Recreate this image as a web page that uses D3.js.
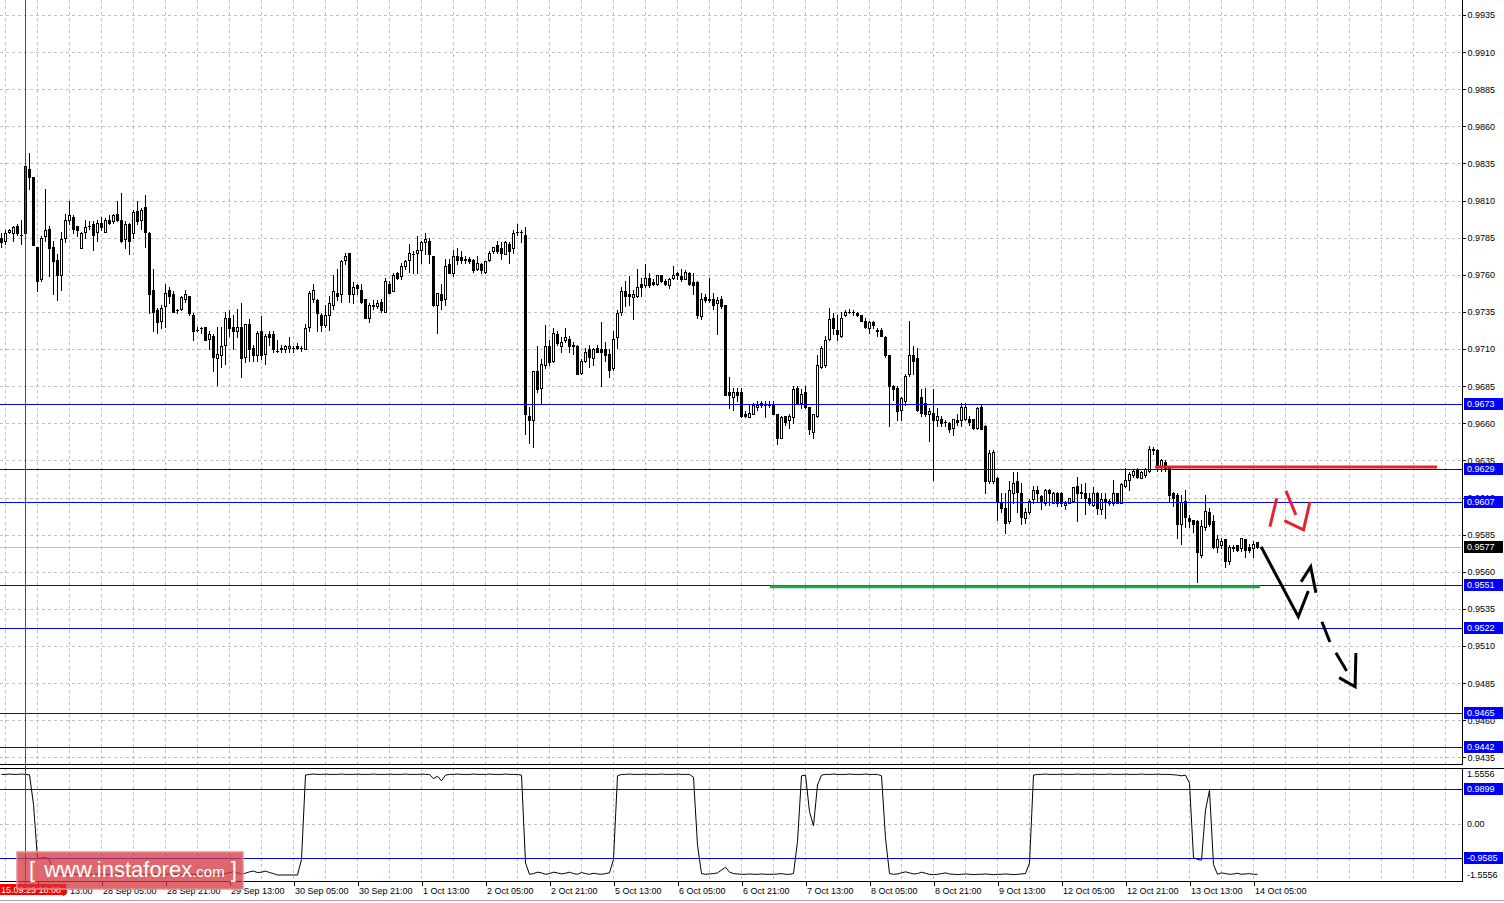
<!DOCTYPE html>
<html><head><meta charset="utf-8">
<script src="https://cdn.jsdelivr.net/npm/d3@7"></script>
<style>
html,body{margin:0;padding:0;background:#fff;overflow:hidden;}
svg{display:block;}
text{font-family:"Liberation Sans",Arial,sans-serif;}
</style></head><body>
<svg id="c" width="1504" height="903"></svg>
<script>
// ---------- DATA ----------
const opens = [
0.9785,0.9783,0.9789,0.9788,0.9793,0.9787,0.9788,0.9831,0.9826,0.9779,
0.9757,0.9786,0.9791,0.9779,0.9770,0.9760,0.9785,0.9797,0.9799,0.9793,
0.9778,0.9789,0.9793,0.9794,0.9789,0.9795,0.9789,0.9797,0.9796,0.9801,
0.9797,0.9784,0.9794,0.9788,0.9803,0.9797,0.9806,0.9788,0.9750,0.9736,
0.9729,0.9739,0.9750,0.9747,0.9736,0.9737,0.9744,0.9746,0.9733,0.9723,
0.9724,0.9725,0.9717,0.9719,0.9704,0.9706,0.9713,0.9731,0.9725,0.9722,
0.9725,0.9705,0.9727,0.9711,0.9706,0.9722,0.9707,0.9720,0.9720,0.9709,
0.9711,0.9710,0.9711,0.9711,0.9712,0.9711,0.9710,0.9725,0.9744,0.9743,
0.9733,0.9726,0.9733,0.9740,0.9748,0.9747,0.9770,0.9775,0.9747,0.9753,
0.9750,0.9744,0.9731,0.9740,0.9739,0.9742,0.9735,0.9754,0.9749,0.9761,
0.9759,0.9766,0.9770,0.9774,0.9775,0.9777,0.9782,0.9783,0.9773,0.9740,
0.9747,0.9744,0.9767,0.9761,0.9773,0.9772,0.9771,0.9771,0.9770,0.9764,
0.9767,0.9762,0.9770,0.9776,0.9780,0.9778,0.9774,0.9781,0.9778,0.9789,
0.9789,0.9787,0.9665,0.9662,0.9695,0.9684,0.9699,0.9712,0.9702,0.9720,
0.9712,0.9716,0.9717,0.9713,0.9712,0.9694,0.9702,0.9710,0.9704,0.9711,
0.9710,0.9710,0.9707,0.9697,0.9718,0.9735,0.9749,0.9747,0.9745,0.9746,
0.9754,0.9753,0.9758,0.9755,0.9754,0.9760,0.9756,0.9753,0.9758,0.9761,
0.9759,0.9757,0.9761,0.9755,0.9755,0.9732,0.9745,0.9744,0.9744,0.9741,
0.9744,0.9740,0.9681,0.9678,0.9681,0.9681,0.9666,0.9664,0.9666,0.9671,
0.9672,0.9673,0.9673,0.9673,0.9666,0.9650,0.9665,0.9662,0.9664,0.9684,
0.9674,0.9681,0.9671,0.9654,0.9665,0.9698,0.9699,0.9717,0.9731,0.9723,
0.9719,0.9733,0.9735,0.9735,0.9734,0.9733,0.9729,0.9724,0.9728,0.9723,
0.9723,0.9718,0.9706,0.9685,0.9684,0.9669,0.9675,0.9693,0.9706,0.9704,
0.9678,0.9674,0.9666,0.9667,0.9662,0.9663,0.9661,0.9660,0.9657,0.9662,
0.9662,0.9663,0.9663,0.9663,0.9657,0.9671,0.9658,0.9621,0.9621,0.9623,
0.9607,0.9603,0.9594,0.9613,0.9621,0.9613,0.9596,0.9600,0.9609,0.9615,
0.9611,0.9606,0.9615,0.9606,0.9613,0.9613,0.9605,0.9606,0.9608,0.9618,
0.9614,0.9613,0.9610,0.9605,0.9613,0.9602,0.9609,0.9608,0.9606,0.9613,
0.9606,0.9618,0.9622,0.9625,0.9629,0.9623,0.9625,0.9628,0.9643,0.9642,
0.9631,0.9634,0.9630,0.9613,0.9612,0.9592,0.9608,0.9596,0.9595,0.9594,
0.9571,0.9590,0.9600,0.9594,0.9577,0.9578,0.9582,0.9567,0.9576,0.9578,
0.9576,0.9582,0.9577,0.9576,0.9580];
const highs = [
0.9788,0.9790,0.9791,0.9793,0.9794,0.9797,0.9833,0.9842,0.9826,0.9779,
0.9786,0.9818,0.9793,0.9783,0.9774,0.9789,0.9801,0.9810,0.9800,0.9793,
0.9789,0.9797,0.9796,0.9796,0.9797,0.9799,0.9798,0.9800,0.9801,0.9810,
0.9815,0.9796,0.9795,0.9804,0.9810,0.9805,0.9814,0.9789,0.9764,0.9738,
0.9740,0.9754,0.9752,0.9749,0.9737,0.9746,0.9750,0.9746,0.9734,0.9725,
0.9725,0.9725,0.9722,0.9720,0.9725,0.9725,0.9735,0.9736,0.9733,0.9737,
0.9741,0.9727,0.9730,0.9713,0.9722,0.9732,0.9720,0.9722,0.9722,0.9716,
0.9713,0.9713,0.9718,0.9712,0.9714,0.9712,0.9727,0.9749,0.9754,0.9744,
0.9734,0.9740,0.9746,0.9760,0.9764,0.9770,0.9775,0.9775,0.9755,0.9754,
0.9754,0.9744,0.9741,0.9743,0.9743,0.9744,0.9758,0.9756,0.9761,0.9762,
0.9768,0.9770,0.9781,0.9776,0.9786,0.9783,0.9788,0.9785,0.9773,0.9748,
0.9754,0.9771,0.9771,0.9777,0.9778,0.9776,0.9773,0.9772,0.9771,0.9773,
0.9768,0.9769,0.9776,0.9779,0.9783,0.9782,0.9783,0.9782,0.9790,0.9794,
0.9790,0.9792,0.9671,0.9695,0.9712,0.9703,0.9726,0.9716,0.9724,0.9722,
0.9718,0.9724,0.9719,0.9715,0.9713,0.9703,0.9711,0.9713,0.9711,0.9713,
0.9728,0.9715,0.9710,0.9722,0.9736,0.9752,0.9756,0.9759,0.9750,0.9764,
0.9758,0.9767,0.9761,0.9757,0.9760,0.9760,0.9757,0.9758,0.9766,0.9762,
0.9764,0.9763,0.9762,0.9761,0.9756,0.9748,0.9747,0.9758,0.9748,0.9745,
0.9746,0.9740,0.9691,0.9684,0.9684,0.9684,0.9668,0.9672,0.9674,0.9675,
0.9675,0.9675,0.9675,0.9675,0.9666,0.9665,0.9665,0.9666,0.9685,0.9685,
0.9683,0.9685,0.9671,0.9666,0.9706,0.9712,0.9719,0.9738,0.9734,0.9733,
0.9735,0.9736,0.9737,0.9736,0.9735,0.9733,0.9731,0.9729,0.9729,0.9724,
0.9724,0.9719,0.9706,0.9686,0.9685,0.9678,0.9693,0.9729,0.9712,0.9711,
0.9683,0.9684,0.9670,0.9683,0.9670,0.9665,0.9662,0.9661,0.9663,0.9666,
0.9674,0.9674,0.9665,0.9663,0.9671,0.9672,0.9659,0.9642,0.9642,0.9624,
0.9613,0.9613,0.9621,0.9627,0.9627,0.9620,0.9603,0.9609,0.9618,0.9618,
0.9612,0.9616,0.9616,0.9614,0.9614,0.9614,0.9608,0.9610,0.9617,0.9624,
0.9619,0.9620,0.9613,0.9617,0.9614,0.9613,0.9613,0.9609,0.9622,0.9613,
0.9620,0.9630,0.9627,0.9629,0.9630,0.9628,0.9630,0.9645,0.9644,0.9643,
0.9636,0.9635,0.9631,0.9614,0.9613,0.9612,0.9615,0.9598,0.9595,0.9595,
0.9595,0.9612,0.9603,0.9598,0.9585,0.9583,0.9582,0.9578,0.9578,0.9578,
0.9583,0.9582,0.9579,0.9581,0.9580];
const lows = [
0.9779,0.9781,0.9788,0.9783,0.9787,0.9781,0.9787,0.9818,0.9780,0.9749,
0.9756,0.9783,0.9759,0.9747,0.9743,0.9750,0.9782,0.9794,0.9788,0.9786,
0.9778,0.9785,0.9791,0.9777,0.9783,0.9790,0.9789,0.9794,0.9795,0.9796,
0.9782,0.9778,0.9774,0.9785,0.9794,0.9791,0.9779,0.9734,0.9722,0.9721,
0.9724,0.9725,0.9741,0.9735,0.9734,0.9736,0.9742,0.9733,0.9716,0.9722,
0.9721,0.9716,0.9710,0.9695,0.9686,0.9698,0.9700,0.9719,0.9710,0.9718,
0.9691,0.9701,0.9702,0.9702,0.9702,0.9703,0.9700,0.9713,0.9708,0.9708,
0.9708,0.9708,0.9708,0.9708,0.9710,0.9709,0.9710,0.9722,0.9742,0.9722,
0.9722,0.9725,0.9723,0.9737,0.9743,0.9742,0.9767,0.9742,0.9741,0.9747,
0.9741,0.9731,0.9728,0.9737,0.9738,0.9735,0.9735,0.9748,0.9749,0.9757,
0.9757,0.9764,0.9762,0.9761,0.9761,0.9768,0.9774,0.9768,0.9739,0.9721,
0.9737,0.9740,0.9761,0.9759,0.9767,0.9768,0.9768,0.9768,0.9762,0.9763,
0.9761,0.9761,0.9769,0.9775,0.9775,0.9771,0.9774,0.9768,0.9775,0.9787,
0.9782,0.9653,0.9647,0.9644,0.9681,0.9674,0.9697,0.9699,0.9701,0.9713,
0.9708,0.9715,0.9708,0.9707,0.9693,0.9693,0.9701,0.9698,0.9699,0.9708,
0.9685,0.9702,0.9691,0.9696,0.9711,0.9733,0.9739,0.9740,0.9730,0.9745,
0.9746,0.9752,0.9752,0.9753,0.9753,0.9755,0.9753,0.9751,0.9757,0.9757,
0.9756,0.9757,0.9753,0.9747,0.9731,0.9730,0.9742,0.9742,0.9737,0.9720,
0.9738,0.9679,0.9670,0.9669,0.9675,0.9664,0.9664,0.9664,0.9666,0.9669,
0.9671,0.9664,0.9671,0.9666,0.9646,0.9650,0.9659,0.9657,0.9660,0.9673,
0.9670,0.9670,0.9653,0.9650,0.9664,0.9697,0.9698,0.9716,0.9720,0.9716,
0.9718,0.9732,0.9734,0.9733,0.9732,0.9729,0.9724,0.9721,0.9724,0.9719,
0.9719,0.9705,0.9658,0.9676,0.9662,0.9662,0.9672,0.9692,0.9693,0.9668,
0.9665,0.9665,0.9648,0.9622,0.9658,0.9658,0.9658,0.9654,0.9652,0.9659,
0.9658,0.9662,0.9659,0.9656,0.9656,0.9656,0.9613,0.9620,0.9620,0.9595,
0.9600,0.9586,0.9593,0.9606,0.9600,0.9592,0.9593,0.9599,0.9606,0.9607,
0.9602,0.9605,0.9605,0.9606,0.9604,0.9604,0.9602,0.9606,0.9607,0.9594,
0.9610,0.9599,0.9605,0.9604,0.9599,0.9599,0.9596,0.9605,0.9605,0.9606,
0.9606,0.9617,0.9615,0.9624,0.9623,0.9623,0.9624,0.9627,0.9639,0.9628,
0.9628,0.9628,0.9608,0.9604,0.9583,0.9579,0.9590,0.9590,0.9587,0.9553,
0.9570,0.9588,0.9591,0.9576,0.9573,0.9576,0.9563,0.9565,0.9574,0.9574,
0.9574,0.9570,0.9573,0.9570,0.9576];
const closes = [
0.9782,0.9788,0.9790,0.9792,0.9788,0.9787,0.9833,0.9826,0.9780,0.9756,
0.9785,0.9790,0.9778,0.9769,0.9760,0.9784,0.9797,0.9800,0.9791,0.9790,
0.9788,0.9792,0.9793,0.9787,0.9795,0.9792,0.9797,0.9795,0.9800,0.9797,
0.9783,0.9794,0.9783,0.9802,0.9796,0.9804,0.9789,0.9747,0.9735,0.9728,
0.9738,0.9748,0.9746,0.9735,0.9736,0.9745,0.9747,0.9734,0.9722,0.9723,
0.9724,0.9716,0.9720,0.9705,0.9707,0.9712,0.9731,0.9724,0.9722,0.9725,
0.9704,0.9727,0.9710,0.9706,0.9721,0.9706,0.9719,0.9718,0.9710,0.9709,
0.9710,0.9712,0.9712,0.9711,0.9711,0.9711,0.9724,0.9748,0.9750,0.9734,
0.9726,0.9733,0.9741,0.9749,0.9746,0.9769,0.9773,0.9747,0.9752,0.9751,
0.9742,0.9731,0.9740,0.9739,0.9741,0.9736,0.9756,0.9748,0.9760,0.9758,
0.9766,0.9769,0.9775,0.9774,0.9777,0.9782,0.9784,0.9774,0.9740,0.9748,
0.9743,0.9766,0.9761,0.9773,0.9770,0.9770,0.9770,0.9769,0.9763,0.9768,
0.9763,0.9769,0.9775,0.9779,0.9776,0.9775,0.9782,0.9776,0.9788,0.9789,
0.9789,0.9666,0.9662,0.9695,0.9683,0.9700,0.9712,0.9701,0.9721,0.9714,
0.9715,0.9718,0.9712,0.9712,0.9693,0.9702,0.9708,0.9705,0.9710,0.9708,
0.9708,0.9706,0.9696,0.9717,0.9734,0.9749,0.9746,0.9746,0.9747,0.9752,
0.9752,0.9758,0.9753,0.9754,0.9760,0.9756,0.9754,0.9757,0.9760,0.9760,
0.9757,0.9762,0.9754,0.9753,0.9733,0.9744,0.9743,0.9743,0.9740,0.9743,
0.9739,0.9679,0.9679,0.9681,0.9679,0.9665,0.9665,0.9667,0.9672,0.9672,
0.9674,0.9672,0.9672,0.9666,0.9650,0.9664,0.9661,0.9665,0.9683,0.9673,
0.9680,0.9671,0.9656,0.9666,0.9699,0.9711,0.9716,0.9730,0.9724,0.9720,
0.9731,0.9735,0.9735,0.9735,0.9733,0.9729,0.9725,0.9728,0.9726,0.9722,
0.9719,0.9706,0.9685,0.9683,0.9668,0.9677,0.9692,0.9706,0.9702,0.9669,
0.9667,0.9666,0.9668,0.9662,0.9665,0.9660,0.9661,0.9656,0.9663,0.9661,
0.9671,0.9671,0.9661,0.9657,0.9670,0.9656,0.9621,0.9640,0.9641,0.9607,
0.9603,0.9593,0.9615,0.9620,0.9614,0.9597,0.9600,0.9608,0.9615,0.9613,
0.9608,0.9615,0.9613,0.9613,0.9606,0.9606,0.9606,0.9610,0.9617,0.9613,
0.9613,0.9610,0.9606,0.9613,0.9603,0.9609,0.9607,0.9606,0.9613,0.9606,
0.9619,0.9622,0.9626,0.9628,0.9624,0.9627,0.9629,0.9643,0.9642,0.9631,
0.9635,0.9630,0.9612,0.9610,0.9592,0.9607,0.9597,0.9594,0.9592,0.9573,
0.9591,0.9601,0.9592,0.9577,0.9582,0.9581,0.9567,0.9577,0.9577,0.9575,
0.9583,0.9575,0.9575,0.9579,0.9577];
const oscillator = [
1.40,1.40,1.41,1.40,1.40,1.41,1.40,1.39,0.55,
-0.98,-0.96,-0.94,-1.02,-1.30,-1.40,
-1.42,-1.43,-1.42,-1.41,-1.43,-1.42,-1.42,-1.43,-1.42,-1.41,
-1.42,-1.43,-1.42,-1.42,-1.41,-1.42,-1.43,-1.42,-1.42,-1.41,
-1.42,-1.43,-1.42,-1.42,-1.42,-1.43,-1.42,-1.41,-1.42,-1.42,
-1.43,-1.42,-1.42,-1.42,-1.43,-1.42,-1.42,-1.41,-1.42,-1.43,-1.42,
-1.40,-1.38,-1.34,-1.38,-1.41,-1.39,-1.35,-1.33,-1.37,-1.36,-1.33,-1.37,-1.40,
-1.44,-1.44,-1.44,-1.44,-1.44,-1.44,
-1.00,1.38,
1.40,1.41,1.40,1.40,1.41,1.40,1.40,1.40,1.41,1.40,
1.40,1.40,1.41,1.40,1.40,1.40,1.41,1.40,1.40,1.40,
1.41,1.40,1.40,1.40,1.41,1.40,1.40,1.40,1.41,1.40,
1.40,1.28,1.35,1.22,1.38,
1.40,1.40,1.41,1.40,1.40,1.40,1.41,1.40,1.40,1.40,1.41,1.40,1.40,1.40,1.41,1.40,1.40,1.40,1.38,
-1.10,-1.42,
-1.40,-1.36,-1.38,-1.42,-1.40,-1.36,-1.38,-1.41,-1.39,-1.36,
-1.40,-1.42,-1.37,-1.40,-1.42,-1.39,-1.41,-1.42,-1.40,-1.38,
-1.00,1.36,
1.40,1.40,1.41,1.40,1.40,1.40,1.41,1.40,1.40,1.40,1.41,1.40,1.40,1.40,1.41,1.40,1.40,1.40,
1.32,-0.60,-1.40,
-1.42,-1.41,-1.40,-1.38,-1.30,-1.22,-1.36,-1.40,-1.41,-1.42,-1.42,-1.41,
-1.42,-1.42,-1.41,-1.42,-1.42,-1.42,-1.41,-1.40,-1.42,-1.42,-1.40,
-0.50,1.36,1.38,0.35,-0.05,1.10,1.38,
1.40,1.40,1.41,1.40,1.40,1.40,1.41,1.40,1.40,1.40,1.41,1.40,1.40,1.40,
1.36,-0.40,-1.40,
-1.42,-1.41,-1.38,-1.35,-1.38,-1.41,-1.40,-1.36,-1.39,-1.42,
-1.43,-1.42,-1.40,-1.38,-1.41,-1.42,-1.43,-1.42,-1.41,-1.42,
-1.43,-1.42,-1.42,-1.41,-1.42,-1.43,-1.42,-1.42,-1.41,-1.42,
-1.43,-1.42,-1.41,-1.40,
-1.10,1.38,
1.40,1.40,1.41,1.40,1.40,1.40,1.41,1.40,1.40,1.40,
1.41,1.40,1.40,1.40,1.41,1.40,1.40,1.40,1.41,1.40,
1.40,1.40,1.41,1.40,1.40,1.40,1.41,1.40,1.40,1.40,
1.41,1.40,1.40,1.40,1.39,1.38,1.36,1.38,
1.15,-0.95,-1.00,-1.02,0.40,0.95,-1.15,
-1.42,-1.38,-1.40,-1.42,-1.41,-1.39,-1.42,-1.41,-1.40,-1.42,-1.42];

const priceTicks = [0.9935,0.9910,0.9885,0.9860,0.9835,0.9810,0.9785,0.9760,0.9735,0.9710,
  0.9685,0.9660,0.9635,0.9610,0.9585,0.9560,0.9535,0.9510,0.9485,0.9460,0.9435];
const levelLines = [0.9673,0.9629,0.9607,0.9551,0.9522,0.9465,0.9442];
const currentPrice = 0.9577;
const oscTicks = [1.5556, 0, -1.5556];
const oscTickLabels = ["1.5556","0.00","-1.5556"];
const oscLevels = [0.9899,-0.9585];
const oscLevelLabels = ["0.9899","-0.9585"];
const timeTickBars = [9,25,41,57,73,89,105,121,137,153,169,185,201,217,233,249,265,281,297,313];
const timeTickLabels = ["27 Sep 13:00","28 Sep 05:00","28 Sep 21:00","29 Sep 13:00","30 Sep 05:00",
  "30 Sep 21:00","1 Oct 13:00","2 Oct 05:00","2 Oct 21:00","5 Oct 13:00","6 Oct 05:00","6 Oct 21:00",
  "7 Oct 13:00","8 Oct 05:00","8 Oct 21:00","9 Oct 13:00","12 Oct 05:00","12 Oct 21:00","13 Oct 13:00","14 Oct 05:00"];
const cursorBar = 6;
const cursorLabel = "15.09.25 10:00";
// drawn objects: [barIndex, price]
const resistanceLine = [[288.4,0.96305],[358.9,0.96305]];
const supportLine = [[192.1,0.9550],[314.6,0.9550]];
const forecastSolid = [[314.9,0.95769],[324.2,0.95298],[326.7,0.95471]];
const forecastSolidHead = [[324.9,0.95533],[327.3,0.95634],[328.6,0.95459]];
const forecastDash1 = [[330.1,0.95264],[332.1,0.95127]];
const forecastDash2 = [[333.6,0.95055],[336.3,0.94932]];
const forecastDashHead = [[334.4,0.94887],[338.4,0.94826],[338.6,0.95053]];
const redMarks = [
  [[317.1,0.95904],[318.8,0.96095]],
  [[321.1,0.96146],[323.6,0.95983]],
  [[320.7,0.95944],[325.5,0.95882],[327.1,0.96072]]];

// ---------- LAYOUT ----------
const W = 1504, H = 903;
const plotRight = 1462;
const mainTop = 0, mainBottom = 764;
const oscTop = 768, oscBottom = 881;

const xs = d3.scaleLinear().domain([0, 1]).range([1.5, 5.5]);
const ys = d3.scaleLinear().domain([0.9935, 0.9442]).range([15, 747]);
const oy = d3.scaleLinear().domain([-1.5556, 1.5556]).range([879.1, 768.9]);

const svg = d3.select('#c');
svg.append('rect').attr('width', W).attr('height', H).attr('fill', '#fff');
const defs = svg.append('defs');
defs.append('clipPath').attr('id','mainClip').append('rect')
  .attr('x',0).attr('y',mainTop).attr('width',plotRight).attr('height',mainBottom-mainTop);
defs.append('clipPath').attr('id','oscClip').append('rect')
  .attr('x',0).attr('y',oscTop).attr('width',plotRight).attr('height',oscBottom-oscTop);

const gridColor = '#c0c0c0';
const blue = '#0000ff';
const crisp = v => Math.round(v) + 0.5;

// vertical grid
const vgrid = d3.range(1, 366, 8).filter(i => xs(i) < plotRight);
const main = svg.append('g').attr('clip-path','url(#mainClip)');
const osc = svg.append('g').attr('clip-path','url(#oscClip)');
[ [main, mainTop, mainBottom], [osc, oscTop, oscBottom] ].forEach(([g, t, b]) => {
  g.append('g').selectAll('line').data(vgrid).join('line')
    .attr('x1', d => Math.floor(xs(d)) + 0.5).attr('x2', d => Math.floor(xs(d)) + 0.5)
    .attr('y1', t).attr('y2', b)
    .attr('stroke', gridColor).attr('stroke-dasharray', '3,3').attr('shape-rendering','crispEdges');
});
main.append('g').selectAll('line').data(priceTicks).join('line')
  .attr('x1', 0).attr('x2', plotRight)
  .attr('y1', d => crisp(ys(d))).attr('y2', d => crisp(ys(d)))
  .attr('stroke', gridColor).attr('stroke-dasharray', '3,3').attr('shape-rendering','crispEdges');
osc.append('line').attr('x1',0).attr('x2',plotRight)
  .attr('y1', crisp(oy(0))).attr('y2', crisp(oy(0)))
  .attr('stroke', gridColor).attr('stroke-dasharray','3,3').attr('shape-rendering','crispEdges');

// current price line
main.append('line').attr('x1',0).attr('x2',plotRight)
  .attr('y1', crisp(ys(currentPrice))).attr('y2', crisp(ys(currentPrice)))
  .attr('stroke', '#c0c0c0').attr('shape-rendering','crispEdges');

// ---------- CANDLES ----------
const bars = opens.map((o, i) => ({ i, o, h: highs[i], l: lows[i], c: closes[i] }));
const cg = main.append('g').attr('shape-rendering','crispEdges');
cg.selectAll('line.wick').data(bars).join('line').attr('class','wick')
  .attr('x1', d => xs(d.i)).attr('x2', d => xs(d.i))
  .attr('y1', d => Math.round(ys(d.h))).attr('y2', d => Math.round(ys(d.l)) + 1)
  .attr('stroke', '#000');
bars.forEach(d => {
  const top = Math.round(ys(Math.max(d.o, d.c)));
  const bot = Math.round(ys(Math.min(d.o, d.c)));
  const left = xs(d.i) - 1.5;
  if (bot - top < 1) {
    cg.append('line').attr('x1', left).attr('x2', left + 3)
      .attr('y1', top + 0.5).attr('y2', top + 0.5).attr('stroke', '#000');
  } else if (d.c < d.o) {
    cg.append('rect').attr('x', left).attr('y', top).attr('width', 3).attr('height', bot - top + 1)
      .attr('fill', '#000');
  } else {
    cg.append('rect').attr('x', left + 0.5).attr('y', top + 0.5).attr('width', 2).attr('height', bot - top)
      .attr('fill', '#fff').attr('stroke', '#000');
  }
});

// level lines
main.append('g').selectAll('line').data(levelLines).join('line')
  .attr('x1',0).attr('x2',plotRight)
  .attr('y1', d => crisp(ys(d))).attr('y2', d => crisp(ys(d)))
  .attr('stroke', blue).attr('shape-rendering','crispEdges');
osc.append('g').selectAll('line').data(oscLevels).join('line')
  .attr('x1',0).attr('x2',plotRight)
  .attr('y1', d => crisp(oy(d))).attr('y2', d => crisp(oy(d)))
  .attr('stroke', blue).attr('shape-rendering','crispEdges');

// drawn objects
const pl = d3.line().x(d => xs(d[0])).y(d => ys(d[1]));
main.append('path').attr('d', pl(supportLine)).attr('stroke', '#1ea84a').attr('stroke-width', 3).attr('fill','none');
main.append('path').attr('d', pl(resistanceLine)).attr('stroke', '#e8212b').attr('stroke-width', 3).attr('fill','none');
[forecastSolid, forecastSolidHead, forecastDash1, forecastDash2, forecastDashHead].forEach(p => {
  main.append('path').attr('d', pl(p)).attr('stroke', '#000').attr('stroke-width', 3)
    .attr('fill','none').attr('stroke-linejoin','miter');
});
redMarks.forEach(p => {
  main.append('path').attr('d', pl(p)).attr('stroke', '#e8212b').attr('stroke-width', 3).attr('fill','none');
});

// oscillator
const ol = d3.line().x((d, i) => xs(i)).y(d => oy(d));
osc.append('path').attr('d', ol(oscillator)).attr('stroke', '#000').attr('stroke-width', 1).attr('fill', 'none');

// ---------- FRAMES & AXES ----------
const frame = svg.append('g').attr('shape-rendering','crispEdges').attr('stroke','#000');
frame.append('line').attr('x1', plotRight + 0.5).attr('x2', plotRight + 0.5).attr('y1', 0).attr('y2', mainBottom + 1);
frame.append('line').attr('x1', 0).attr('x2', plotRight + 1).attr('y1', mainBottom + 0.5).attr('y2', mainBottom + 0.5);
frame.append('line').attr('x1', 0).attr('x2', W).attr('y1', oscTop + 0.5).attr('y2', oscTop + 0.5);
frame.append('line').attr('x1', plotRight + 0.5).attr('x2', plotRight + 0.5).attr('y1', oscTop).attr('y2', oscBottom + 1);
frame.append('line').attr('x1', 0).attr('x2', W).attr('y1', 900.5).attr('y2', 900.5).attr('stroke','#a0a0a0');

const fs = '9px';
const yAxis = d3.axisRight(ys).tickValues(priceTicks).tickSize(3).tickPadding(2).tickFormat(d3.format('.4f'));
const ya = svg.append('g').attr('transform', `translate(${plotRight + 0.5},0)`).call(yAxis);
ya.select('.domain').remove();
ya.selectAll('text').attr('font-size', fs).attr('fill', '#000').attr('font-family','"Liberation Sans",Arial,sans-serif');
ya.selectAll('line').attr('shape-rendering','crispEdges');

// osc labels
svg.append('g').selectAll('text').data(oscTicks).join('text')
  .attr('x', plotRight + 5)
  .attr('y', (d, k) => oy(d) + (k === 0 ? 5 : (k === 2 ? -4 : 0)))
  .attr('dy', '0.32em').attr('font-size', fs).attr('fill','#000')
  .text((d, k) => oscTickLabels[k]);

// boxed level labels
function boxLabel(y, text, bg) {
  const g = svg.append('g');
  g.append('rect').attr('x', plotRight + 2).attr('y', Math.round(y) - 6).attr('width', 39).attr('height', 12)
    .attr('fill', bg).attr('shape-rendering','crispEdges');
  g.append('text').attr('x', plotRight + 5).attr('y', y).attr('dy','0.34em')
    .attr('font-size', fs).attr('fill', '#fff').text(text);
}
levelLines.forEach(v => boxLabel(ys(v), d3.format('.4f')(v), blue));
boxLabel(ys(currentPrice), d3.format('.4f')(currentPrice), '#000');
oscLevels.forEach((v, k) => boxLabel(oy(v), oscLevelLabels[k], blue));

// time axis
const xAxis = d3.axisBottom(xs).tickValues(timeTickBars).tickSize(4).tickSizeOuter(0)
  .tickFormat((d, k) => timeTickLabels[k]);
const xa = svg.append('g').attr('transform', `translate(0,${oscBottom + 0.5})`).call(xAxis);
xa.select('.domain').attr('d', `M0,0H${plotRight + 1}`).attr('shape-rendering','crispEdges');
xa.selectAll('.tick line').attr('shape-rendering','crispEdges');
xa.selectAll('.tick text').attr('text-anchor','start').attr('dx', 1).attr('y', 4).attr('dy','0.95em')
  .attr('font-size', fs).attr('fill','#000').attr('font-family','"Liberation Sans",Arial,sans-serif');

// cursor line + label
svg.append('line').attr('x1', Math.floor(xs(cursorBar)) + 0.5).attr('x2', Math.floor(xs(cursorBar)) + 0.5)
  .attr('y1', 0).attr('y2', 885).attr('stroke', '#ff0000').attr('shape-rendering','crispEdges');
svg.append('rect').attr('x', 0).attr('y', 884).attr('width', 66).attr('height', 11).attr('fill', '#ff0000');
svg.append('text').attr('x', 1).attr('y', 889.5).attr('dy','0.35em').attr('font-size', fs).attr('fill','#fff').text(cursorLabel);

// watermark
const wm = svg.append('g');
wm.append('rect').attr('x', 17).attr('y', 852).attr('width', 226).attr('height', 37)
  .attr('fill', '#d4353d').attr('fill-opacity', 0.75)
  .attr('stroke', '#e98b90').attr('stroke-width', 1.5);
const wt = wm.append('text').attr('x', 29).attr('y', 877).attr('fill', '#fff').attr('font-size', '22px')
  .attr('font-family','"Liberation Sans",Arial,sans-serif');
wt.append('tspan').text('[ ');
wt.append('tspan').attr('dx', 3).text('www.instaforex');
wt.append('tspan').attr('font-size','15px').text('.com');
wt.append('tspan').text(' ]');
</script>
</body></html>
